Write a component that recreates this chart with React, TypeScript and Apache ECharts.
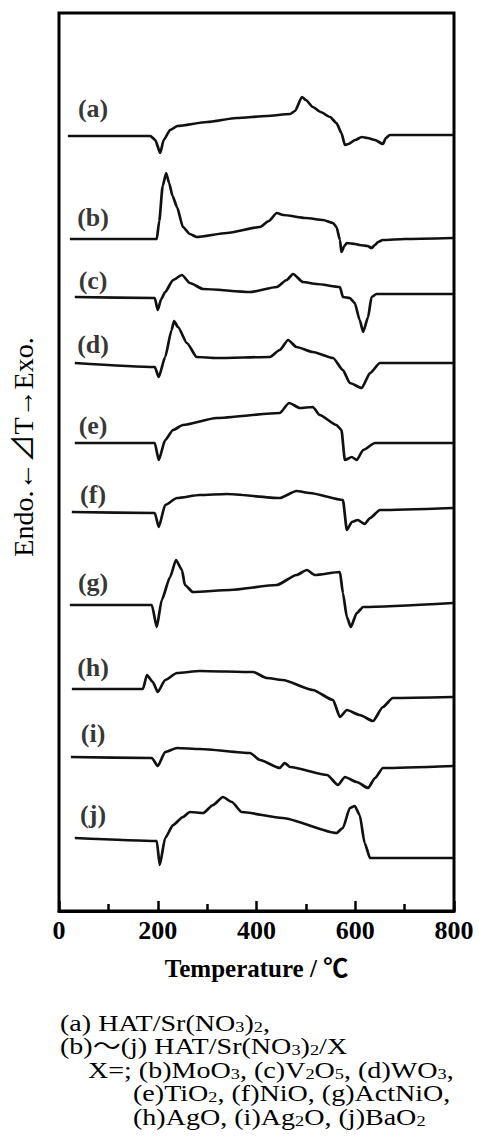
import { useEffect, useRef } from "react";
import * as echarts from "echarts";

// Temperature axis (°C)
const tempMin = 0;
const tempMax = 800;
const tempStep = 200;

// Curve letters
const curveLetters = ["a", "b", "c", "d", "e", "f", "g", "h", "i", "j"];

// DTA curves: [temperature °C, offset ΔT signal (arbitrary units)]
const curveA: [number, number][] = [
  [18, 775], [185, 775], [195, 771], [205, 758], [212, 771], [225, 781], [240, 785],
  [300, 789], [360, 793], [420, 795], [468, 797], [478, 800], [492, 814], [500, 811],
  [514, 804], [530, 799], [549, 794], [562, 788], [572, 778], [579, 766], [586, 767],
  [600, 771], [613, 774], [625, 773], [640, 771], [656, 767], [662, 773], [670, 776], [798, 776],
];
const curveB: [number, number][] = [
  [22, 672], [198, 672], [203, 690], [210, 725], [217, 738], [223, 728], [230, 715],
  [239, 704], [251, 684], [265, 677], [279, 674], [340, 678], [407, 684], [425, 690],
  [441, 698], [454, 696], [500, 693], [535, 691], [555, 688], [562, 684], [569, 671],
  [572, 659], [578, 665], [583, 668], [600, 667], [609, 666], [625, 665], [633, 663],
  [640, 666], [646, 669], [656, 671], [700, 672], [798, 673],
];
const curveC: [number, number][] = [
  [32, 614], [194, 613], [200, 601], [207, 612], [215, 619], [231, 631], [249, 636],
  [265, 628], [292, 622], [387, 619], [441, 624], [461, 631], [474, 637], [494, 629],
  [522, 627], [569, 624], [575, 614], [589, 613], [599, 608], [609, 591], [616, 579],
  [626, 594], [633, 614], [643, 617], [798, 617],
];
const curveD: [number, number][] = [
  [32, 548], [194, 544], [202, 534], [215, 554], [228, 581], [233, 590], [241, 584],
  [259, 568], [279, 554], [319, 553], [427, 554], [447, 561], [464, 571], [481, 564],
  [514, 559], [555, 553], [575, 541], [589, 528], [613, 523], [630, 538], [650, 548], [798, 548],
];
const curveE: [number, number][] = [
  [32, 468], [194, 468], [202, 451], [215, 471], [231, 481], [251, 486], [319, 493],
  [447, 498], [466, 508], [488, 503], [514, 504], [528, 496], [562, 486], [572, 481],
  [579, 451], [593, 454], [603, 451], [616, 461], [640, 468], [798, 468],
];
const curveF: [number, number][] = [
  [26, 399], [194, 398], [202, 384], [215, 406], [239, 413], [285, 416], [340, 417],
  [447, 413], [481, 420], [508, 418], [575, 411], [583, 381], [593, 389], [605, 391],
  [619, 387], [630, 393], [650, 401], [798, 403],
];
const curveG: [number, number][] = [
  [22, 306], [188, 306], [198, 284], [208, 311], [225, 334], [237, 351], [249, 341],
  [255, 326], [271, 319], [346, 321], [441, 326], [481, 336], [502, 341], [518, 336],
  [569, 339], [575, 318], [583, 294], [591, 284], [603, 298], [616, 304], [798, 308],
];
const curveH: [number, number][] = [
  [26, 222], [170, 222], [178, 236], [190, 229], [200, 219], [215, 231], [239, 238],
  [285, 240], [393, 239], [421, 233], [453, 231], [514, 221], [555, 211], [569, 194],
  [583, 201], [609, 196], [636, 190], [656, 204], [676, 213], [798, 214],
];
const curveI: [number, number][] = [
  [24, 154], [188, 153], [200, 145], [215, 159], [239, 163], [285, 162], [387, 158],
  [407, 151], [447, 143], [457, 148], [468, 144], [543, 136], [565, 126], [579, 134],
  [603, 129], [626, 123], [640, 133], [656, 143], [798, 145],
];
const curveJ: [number, number][] = [
  [32, 73], [198, 70], [204, 46], [215, 73], [231, 86], [251, 94], [265, 99], [292, 98],
  [312, 106], [332, 114], [350, 109], [370, 99], [453, 93], [562, 78], [575, 83],
  [589, 103], [599, 105], [609, 96], [619, 68], [630, 53], [798, 53],
];

const curves = [curveA, curveB, curveC, curveD, curveE, curveF, curveG, curveH, curveI, curveJ];

// Texts
const xTitle = "Temperature / ℃";
const yTitle = "Endo.←⊿T→Exo.";
const noteLines = [
  "(a) HAT/Sr(NO{s|3}){s|2},",
  "(b)〜(j) HAT/Sr(NO{s|3}){s|2}/X",
  "X=; (b)MoO{s|3}, (c)V{s|2}O{s|5}, (d)WO{s|3},",
  "(e)TiO{s|2}, (f)NiO, (g)ActNiO,",
  "(h)AgO, (i)Ag{s|2}O, (j)BaO{s|2}",
];

export default function App() {
  const ref = useRef<HTMLDivElement>(null);
  useEffect(() => {
    if (!ref.current) return;
    const chart = echarts.init(ref.current, null, { renderer: "svg" });
    const serif = "'Liberation Serif', 'Times New Roman', 'Noto Sans CJK JP', serif";

    // layout: how far each curve label sits above its curve's start (axis units)
    const labelRise = [28, 22, 17, 19, 18, 18, 23, 22, 24, 24];

    const lineSeries: any[] = curves.map((d, i) => ({
      type: "line",
      name: `(${curveLetters[i]})`,
      data: d,
      showSymbol: false,
      symbol: "none",
      smooth: 0.2,
      smoothMonotone: "x",
      silent: true,
      lineStyle: { color: "#111", width: 2.7, join: "round" },
      z: 2,
    }));

    const labelSeries = {
      type: "scatter",
      name: "labels",
      data: curves.map((d, i) => [69, d[0][1] + labelRise[i], `(${curveLetters[i]})`]),
      symbolSize: 0,
      silent: true,
      label: {
        show: true,
        position: "inside",
        formatter: (p: any) => p.value[2],
        color: "#000",
        fontFamily: serif,
        fontSize: 26,
        fontWeight: "bold",
      },
      z: 3,
    };

    const noteX = [60, 60, 88, 133, 133];
    const noteY = [1023, 1046.5, 1070, 1093.5, 1117];

    const graphic: any[] = [
      {
        type: "text",
        x: 23,
        y: 447,
        rotation: Math.PI / 2,
        style: {
          text: yTitle,
          fill: "#000",
          fontFamily: serif,
          fontSize: 28,
          align: "center",
          verticalAlign: "middle",
          textAlign: "center",
          textVerticalAlign: "middle",
        },
      },
      ...noteLines.map((t, i) => ({
        type: "text",
        x: noteX[i],
        y: noteY[i],
        scaleX: 1.22,
        scaleY: 1,
        style: {
          text: t,
          fill: "#000",
          fontFamily: serif,
          fontSize: 23,
          align: "left",
          verticalAlign: "middle",
          textAlign: "left",
          textVerticalAlign: "middle",
          rich: {
            s: {
              fontSize: 15,
              fontFamily: serif,
              fill: "#000",
              color: "#000",
              padding: [8, 0, 0, 0],
            },
          },
        },
      })),
    ];

    chart.setOption({
      animation: false,
      backgroundColor: "#fff",
      grid: {
        left: 59,
        right: 25,
        top: 13,
        bottom: 237,
        show: true,
        borderColor: "#000",
        borderWidth: 3,
        backgroundColor: "transparent",
      },
      xAxis: {
        type: "value",
        min: tempMin,
        max: tempMax,
        interval: tempStep,
        name: xTitle,
        nameLocation: "middle",
        nameGap: 45,
        nameTextStyle: { color: "#000", fontFamily: serif, fontSize: 25, fontWeight: "bold" },
        axisLine: { show: true, lineStyle: { color: "#000", width: 3 } },
        axisTick: { show: true, inside: true, length: 10, lineStyle: { color: "#000", width: 2.5 } },
        minorTick: { show: true, splitNumber: 2, length: 7, lineStyle: { color: "#000", width: 2.5 } },
        splitLine: { show: false },
        minorSplitLine: { show: false },
        axisLabel: {
          show: true,
          margin: 6,
          color: "#000",
          fontFamily: serif,
          fontSize: 26,
          fontWeight: "bold",
          showMinLabel: true,
          showMaxLabel: true,
        },
      },
      yAxis: {
        type: "value",
        min: 0,
        max: 898,
        show: false,
        splitLine: { show: false },
      },
      series: [...lineSeries, labelSeries],
      graphic,
    });
    return () => chart.dispose();
  }, []);
  return (
    <div
      ref={ref}
      style={{ position: "absolute", left: 0, top: 0, width: 479, height: 1148, background: "#fff" }}
    />
  );
}
